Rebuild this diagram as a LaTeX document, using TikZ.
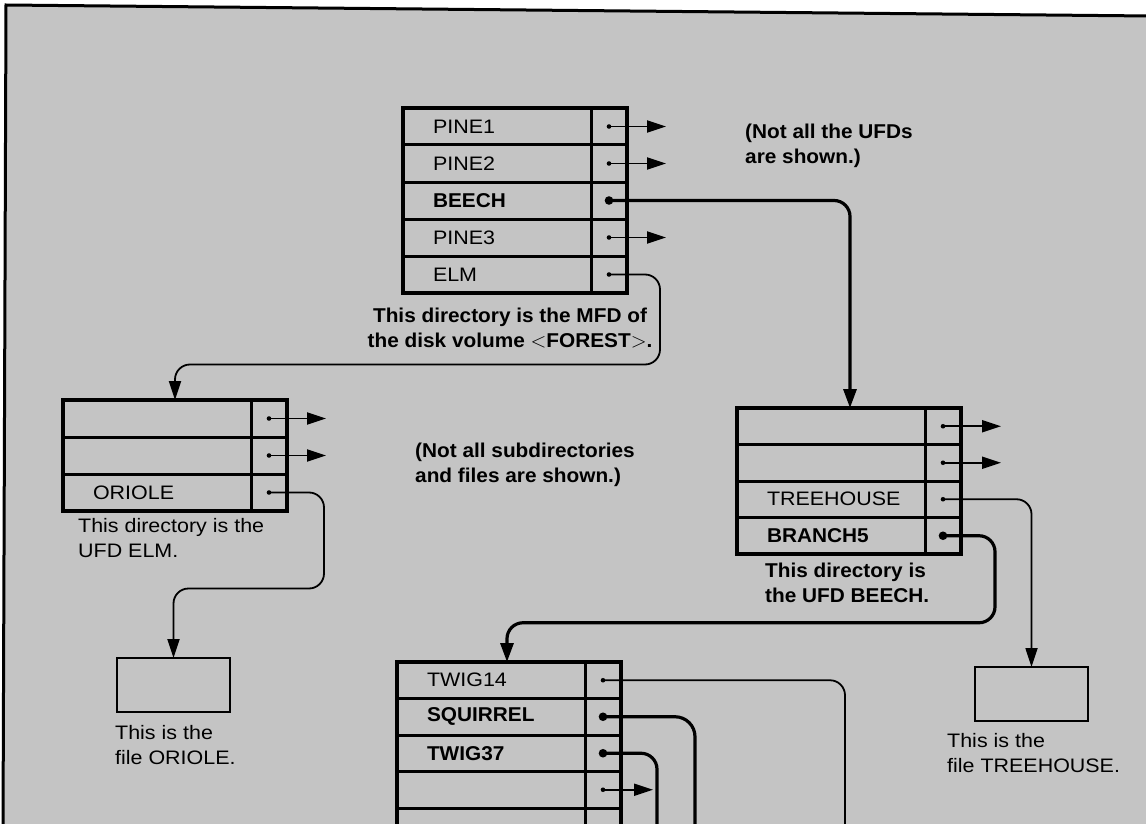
\documentclass[tikz,border=0pt]{standalone}
\usepackage{fontspec}
\setmainfont{Liberation Sans}[FakeStretch=1.1]
\newfontfamily\boldfam{Liberation Sans}[FakeStretch=1.04]
\usetikzlibrary{arrows.meta}
\definecolor{paper}{RGB}{196,196,196}
\tikzset{
  every node/.style={font=\fontsize{19.5}{24.5}\selectfont},
  reg/.style={font=\fontsize{19.5}{24.5}\selectfont},
  bld/.style={font=\boldfam\bfseries\fontsize{20}{24.5}\selectfont},
  cellbase/.style={draw, line width=3pt, inner sep=0pt, outer sep=0pt, anchor=north west},
  namecell/.style={cellbase, minimum width=188pt, text width=188pt, align=left,
     execute at begin node={\hspace*{30pt}}},
  ptrcell/.style={cellbase, minimum width=36pt},
  rowa/.style={minimum height=37pt},
  rowb/.style={minimum height=36.5pt},
  filebox/.style={draw, line width=2.6pt, inner sep=0pt, outer sep=0pt, minimum width=113pt, minimum height=54pt, anchor=north west},
  caption/.style={inner sep=0pt, align=left, anchor=west},
  lightptr/.style={line width=1.8pt, rounded corners=15pt},
  boldptr/.style={line width=3.2pt, rounded corners=16pt},
  tipl/.style={-{Triangle[length=19pt,width=12pt]}},
  tipb/.style={-{Triangle[length=19pt,width=13pt]}},
  frameline/.style={line width=3pt, rounded corners=0pt},
}
\begin{document}
\begin{tikzpicture}[x=1pt,y=-1pt]
\useasboundingbox (0,0) rectangle (1146,824);
\clip (0,0) rectangle (1146,824);
% background sheet
\fill[paper] (6,5) -- (1150,16) -- (1150,830) -- (3,830) -- cycle;
\draw[frameline] (1150,16) -- (6,5) -- (3,830);

% ---------- MFD ----------
\node[namecell,rowa,reg] (m1) at (403,108) {PINE1};
\node[namecell,rowa,reg] (m2) at (m1.south west) {PINE2};
\node[namecell,rowa,bld] (m3) at (m2.south west) {BEECH};
\node[namecell,rowa,reg] (m4) at (m3.south west) {PINE3};
\node[namecell,rowa,reg] (m5) at (m4.south west) {ELM};
\node[ptrcell,rowa] (p1) at (m1.north east) {};
\node[ptrcell,rowa] (p2) at (m2.north east) {};
\node[ptrcell,rowa] (p3) at (m3.north east) {};
\node[ptrcell,rowa] (p4) at (m4.north east) {};
\node[ptrcell,rowa] (p5) at (m5.north east) {};
\draw[line width=3.6pt] (m1.north west) rectangle (p5.south east);
\node[caption,bld,align=center,anchor=center] (mcap) at (510,328)
  {This directory is the MFD of\\the disk volume $<$FOREST$>$.};
\node[caption,bld] (ufdnote) at (745,146) {(Not all the UFDs\\are shown.)};

% ---------- UFD ELM ----------
\node[namecell,rowa] (e1) at (63,400) {};
\node[namecell,rowa] (e2) at (e1.south west) {};
\node[namecell,rowa,reg] (e3) at (e2.south west) {ORIOLE};
\node[ptrcell,rowa] (ep1) at (e1.north east) {};
\node[ptrcell,rowa] (ep2) at (e2.north east) {};
\node[ptrcell,rowa] (ep3) at (e3.north east) {};
\draw[line width=3.6pt] (e1.north west) rectangle (ep3.south east);
\node[caption,reg] (ecap) at (78,538) {This directory is the\\UFD ELM.};
\node[caption,bld] (subnote) at (415,465) {(Not all subdirectories\\and files are shown.)};

% ---------- UFD BEECH ----------
\node[namecell,rowb] (b1) at (737,408) {};
\node[namecell,rowb] (b2) at (b1.south west) {};
\node[namecell,rowb,reg] (b3) at (b2.south west) {TREEHOUSE};
\node[namecell,rowb,bld] (b4) at (b3.south west) {BRANCH5};
\node[ptrcell,rowb] (bp1) at (b1.north east) {};
\node[ptrcell,rowb] (bp2) at (b2.north east) {};
\node[ptrcell,rowb] (bp3) at (b3.north east) {};
\node[ptrcell,rowb] (bp4) at (b4.north east) {};
\draw[line width=3.6pt] (b1.north west) rectangle (bp4.south east);
\node[caption,bld] (bcap) at (765,583) {This directory is\\the UFD BEECH.};

% ---------- files ----------
\node[filebox] (fo) at (117,658) {};
\node[caption,reg] (focap) at (115,745) {This is the\\file ORIOLE.};
\node[filebox] (ft) at (975,667) {};
\node[caption,reg] (ftcap) at (947,753) {This is the\\file TREEHOUSE.};

% ---------- BRANCH5 directory ----------
\node[namecell,rowb,reg] (t1) at (397,662) {TWIG14};
\node[namecell,rowb,bld] (t2) at (t1.south west) {SQUIRREL};
\node[namecell,rowb,bld] (t3) at (t2.south west) {TWIG37};
\node[namecell,rowb] (t4) at (t3.south west) {};
\node[namecell,rowb] (t5) at (t4.south west) {};
\node[namecell,rowb] (t6) at (t5.south west) {};
\node[ptrcell,rowb] (tp1) at (t1.north east) {};
\node[ptrcell,rowb] (tp2) at (t2.north east) {};
\node[ptrcell,rowb] (tp3) at (t3.north east) {};
\node[ptrcell,rowb] (tp4) at (t4.north east) {};
\node[ptrcell,rowb] (tp5) at (t5.north east) {};
\node[ptrcell,rowb] (tp6) at (t6.north east) {};
\draw[line width=3.6pt] (t1.south west) -- (t1.north west) -- (tp1.north east) -- (tp6.south east);
\draw[line width=3.6pt] (t1.north west) -- (t6.south west);
\coordinate (t14end) at (845,850);
\coordinate (sqend) at (695,850);
\coordinate (t37end) at (657,850);

% ---------- pointers: stubs ----------
\foreach \p in {p1,p2,p4} {
  \draw[lightptr,tipl] (\p.center) -- ++(57,0);
  \fill (\p.center) circle (2.3pt);
}
\foreach \p in {ep1,ep2} {
  \draw[lightptr,tipl] (\p.center) -- ++(57,0);
  \fill (\p.center) circle (2.3pt);
}
\foreach \p in {bp1,bp2} {
  \draw[lightptr,tipl] (\p.center) -- ++(58,0);
  \fill (\p.center) circle (2.3pt);
}
\draw[lightptr,tipl] (tp4.center) -- ++(50,0);
\fill (tp4.center) circle (2.3pt);

% ---------- pointers: links ----------
\draw[boldptr,tipb] (p3.center) -| ([xshift=113pt]b1.north west);
\fill (p3.center) circle (4.3pt);
\draw[lightptr,tipl] (p5.center) -- ++(51,0) -- ++(0,90) -| ([xshift=112pt]e1.north west);
\fill (p5.center) circle (2.3pt);
\draw[lightptr,tipl] (ep3.center) -- ++(55,0) -- ++(0,96) -| (fo.north);
\fill (ep3.center) circle (2.3pt);
\draw[lightptr,tipl] (bp3.center) -| (ft.north);
\fill (bp3.center) circle (2.3pt);
\draw[boldptr,tipb] (bp4.center) -- ++(52,0) -- ++(0,87) -| ([xshift=110pt]t1.north west);
\fill (bp4.center) circle (4.3pt);
\draw[lightptr] (tp1.center) -| (t14end);
\fill (tp1.center) circle (2.3pt);
\draw[boldptr,rounded corners=20pt] (tp2.center) -| (sqend);
\fill (tp2.center) circle (4.3pt);
\draw[boldptr] (tp3.center) -| (t37end);
\fill (tp3.center) circle (4.3pt);
\end{tikzpicture}
\end{document}
